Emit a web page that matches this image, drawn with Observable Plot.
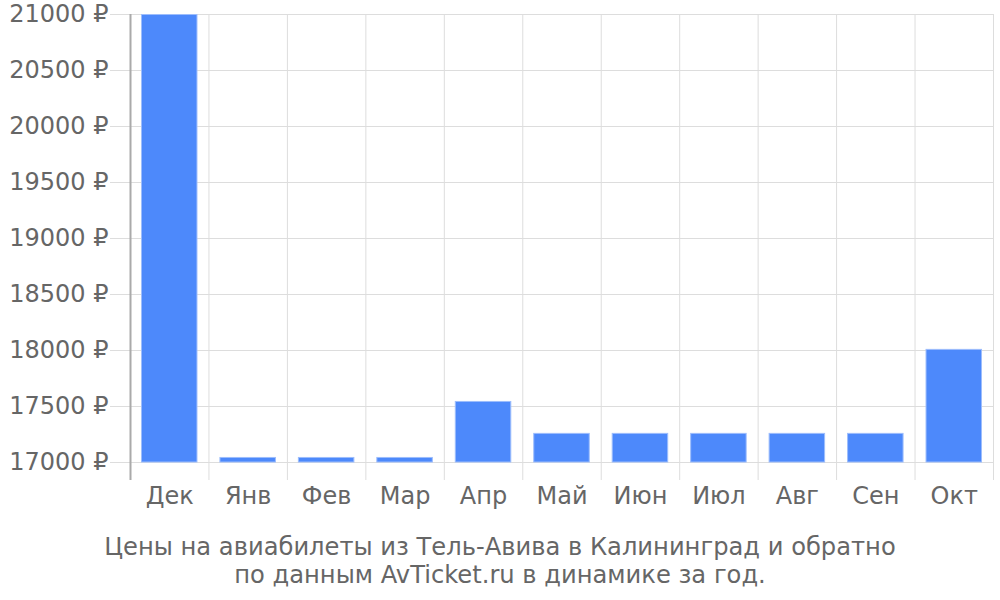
<!DOCTYPE html>
<html><head><meta charset="utf-8">
<script src="https://cdn.jsdelivr.net/npm/d3@7"></script>
<script src="https://cdn.jsdelivr.net/npm/@observablehq/plot@0.6"></script>
<style>
body{margin:0;background:#fff;font-family:"DejaVu Sans",sans-serif;}
#chart svg{display:block;}
#cap{margin-top:13px;text-align:center;font-size:24.2px;line-height:28px;color:#666;width:1000px;}
</style>
</head><body>
<div id="chart"></div>
<div id="cap">Цены на авиабилеты из Тель-Авива в Калининград и обратно<br>по данным AvTicket.ru в динамике за год.</div>
<script>
const months = ["Дек","Янв","Фев","Мар","Апр","Май","Июн","Июл","Авг","Сен","Окт"];
const prices = [21000, 17045, 17045, 17045, 17545, 17260, 17260, 17260, 17260, 17260, 18010];
const yTicks = [17000, 17500, 18000, 18500, 19000, 19500, 20000, 20500, 21000];
const data = months.map((m, i) => ({month: m, price: prices[i]}));

const W = 1000, ML = 130, MR = 7, MT = 14, MB = 58;
const step = (W - ML - MR) / months.length;

const chart = Plot.plot({
  width: W, height: 520,
  marginLeft: ML, marginRight: MR, marginTop: MT, marginBottom: MB,
  style: {fontFamily: "DejaVu Sans", fontSize: "24px", color: "#666", background: "#fff", overflow: "visible"},
  x: {domain: months, paddingInner: 0.28, paddingOuter: 0.14, round: false, axis: null, label: null},
  y: {domain: [17000, 21000], axis: null, label: null},
  marks: [
    Plot.ruleY(yTicks, {y: d => d, stroke: "#ddd", strokeOpacity: 1, insetLeft: -20}),
    Plot.ruleX(months.slice(1), {x: d => d, dx: -step / 2, stroke: "#ddd", strokeOpacity: 1, insetBottom: -18}),
    Plot.ruleX(months.slice(-1), {x: d => d, dx: step / 2, stroke: "#ddd", strokeOpacity: 1, insetBottom: -18}),
    Plot.barY(data, {x: "month", y1: 17000, y2: "price", fill: "#4d89fb", stroke: "#9dbdfc", strokeWidth: 1, insetTop: 0.5, insetLeft: 0.5, insetRight: 0.5}),
    Plot.ruleX(months.slice(0, 1), {x: d => d, dx: -step / 2, stroke: "#aaa", strokeWidth: 2, strokeOpacity: 1, insetBottom: -18}),
    Plot.axisY(yTicks, {tickSize: 0, tickPadding: 22, tickFormat: d => d + " ₽", fill: "#666", fontSize: 24, label: null}),
    Plot.axisX(months, {tickSize: 0, tickPadding: 24, fill: "#666", fontSize: 24, label: null})
  ]
});
document.getElementById("chart").appendChild(chart);
</script>
</body></html>
